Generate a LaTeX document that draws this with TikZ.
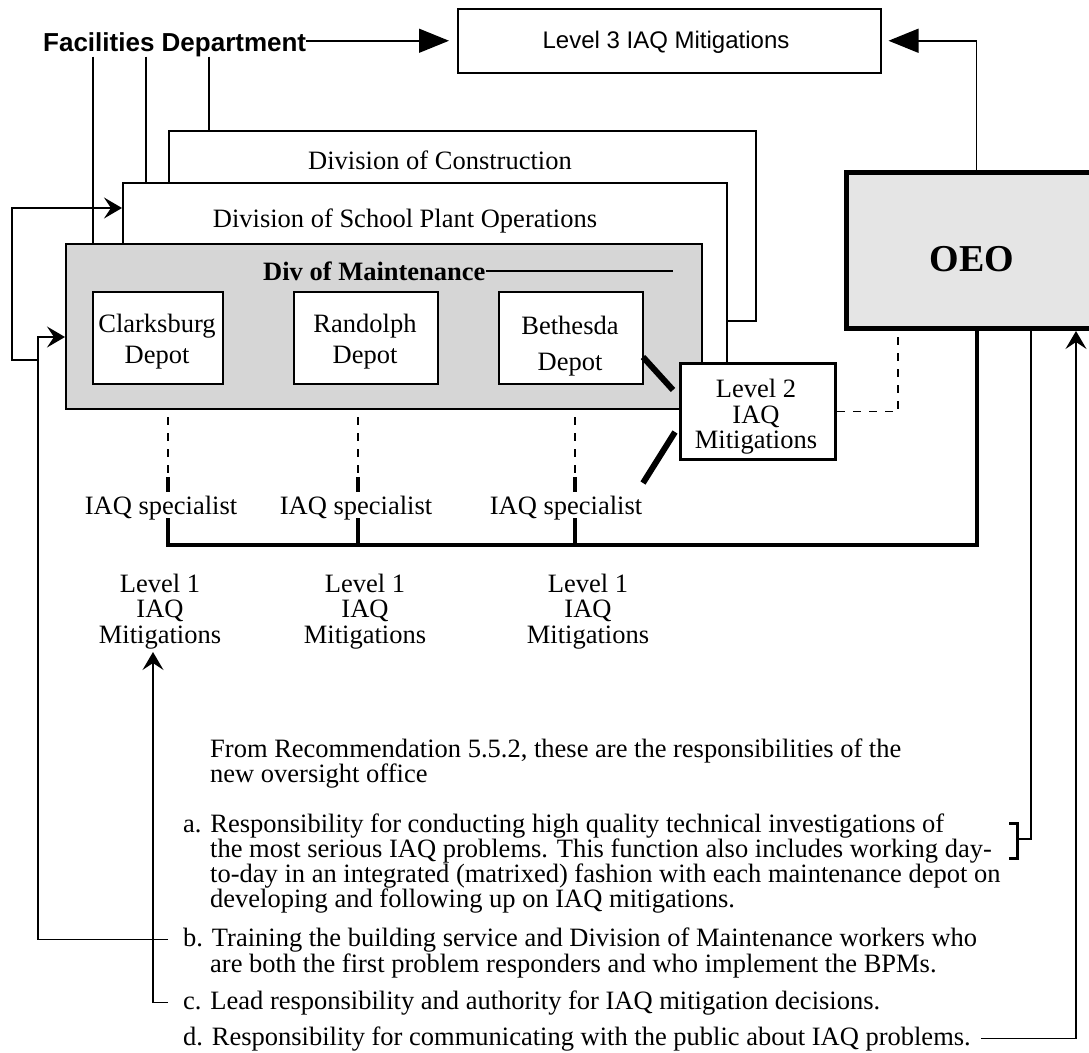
\documentclass[tikz,border=0pt]{standalone}
\usepackage{fontspec}
\setmainfont{Liberation Serif}
\newfontfamily\arialf{Liberation Sans}
\usetikzlibrary{arrows.meta}
\begin{document}
\begin{tikzpicture}[x=1pt,y=-1pt,
  tx/.style={font=\fontsize{26.5}{25}\selectfont, inner sep=0pt},
  txb/.style={font=\fontsize{26.5}{25}\selectfont\bfseries, inner sep=0pt},
  rbox/.style={draw, line width=1.5pt, fill=white, inner sep=0pt, anchor=north west},
  thinln/.style={line width=1.5pt},
  fatln/.style={line width=4pt},
  bigtip/.style={-{Triangle[length=30pt,width=24pt]}},
  opentip/.style={-{Stealth[length=18pt,width=21pt,inset=7pt]}},
  dsh/.style={line width=1.5pt, dash pattern=on 8pt off 8pt}
]
\useasboundingbox (0,0) rectangle (1089,1052);
\begin{scope}
\clip (0,0) rectangle (1089,1052);

% Top
\node[font=\arialf\bfseries\fontsize{26}{28}\selectfont, inner sep=0pt, anchor=base west] (fac) at (43,51) {Facilities Department};
\node[rbox, minimum width=423, minimum height=64] (l3) at (457,8) {};
\node[font=\arialf\fontsize{24}{26}\selectfont, inner sep=0pt, anchor=base] (l3t) at (666,48) {Level 3 IAQ Mitigations};

% Division boxes
\node[rbox, minimum width=587, minimum height=190] (constr) at (168,130) {};
\node[tx, anchor=base] (constrt) at (440,169) {Division of Construction};
\node[rbox, minimum width=604, minimum height=220] (spo) at (122,182) {};
\node[tx, anchor=base] (spot) at (405,227) {Division of School Plant Operations};
\node[rbox, fill=black!16, minimum width=636, minimum height=165] (maint) at (65,243) {};
\node[txb, anchor=base west] (dmt) at (263,280) {Div of Maintenance};
\draw[thinln] (dmt.east) -- ++(187,0);

% Depots
\node[rbox, minimum width=130, minimum height=92] (clark) at (92,291) {};
\node[tx, anchor=base] (clarkA) at (157,332) {Clarksburg};
\node[tx, anchor=base] (clarkB) at (157,363) {Depot};
\node[rbox, minimum width=144, minimum height=92] (rand) at (293,291) {};
\node[tx, anchor=base] (randA) at (365,332) {Randolph};
\node[tx, anchor=base] (randB) at (365,363) {Depot};
\node[rbox, minimum width=144, minimum height=92] (beth) at (498,291) {};
\node[tx, anchor=base] (bethA) at (570,334) {Bethesda};
\node[tx, anchor=base] (bethB) at (570,370) {Depot};

% Level 2
\node[rbox, line width=3pt, minimum width=155, minimum height=96] (l2) at (679,362) {};
\node[tx, anchor=base] (l2a) at (756,397) {Level 2};
\node[tx, anchor=base] (l2b) at (756,423) {IAQ};
\node[tx, anchor=base] (l2c) at (756,448) {Mitigations};
\draw[line width=6pt] (643,357) -- (673,390);
\draw[line width=6pt] (675,432) -- (643,483);

% OEO
\node[draw, line width=5pt, fill=black!10, inner sep=0pt, anchor=north west, minimum width=260, minimum height=156] (oeo) at (844,170) {};
\node[font=\fontsize{38}{40}\selectfont\bfseries, inner sep=0pt, anchor=base] (oeot) at (972,271) {OEO};

% Facilities connectors
\draw[thinln, bigtip, shorten >=8pt] (fac.east |- l3.west) -- (l3.west);
\draw[thinln] ([xshift=50pt]fac.south west) -- ([xshift=50pt]fac.south west |- maint.north);
\draw[thinln] ([xshift=103pt]fac.south west) -- ([xshift=103pt]fac.south west |- spo.north);
\draw[thinln] ([xshift=166pt]fac.south west) -- ([xshift=166pt]fac.south west |- constr.north);

% OEO to Level 3
\draw[thinln, bigtip, shorten >=7pt] (oeo.north) |- (l3.east);

% Level 2 dashed to OEO
\draw[dsh] (l2.east) -| (oeo.south -| 898,0);

% Specialists
\node[tx, anchor=base] (sp1) at (161,514) {IAQ specialist};
\node[tx, anchor=base] (sp2) at (356,514) {IAQ specialist};
\node[tx, anchor=base] (sp3) at (566,514) {IAQ specialist};
\foreach \xx in {168,358,575}{
  \draw[line width=1.5pt, dash pattern=on 8pt off 8pt] (\xx,417) -- (\xx,477);
  \draw[fatln] (\xx,477) -- (\xx,492);
  \draw[fatln] (\xx,518) -- (\xx,545);
}
\draw[fatln] (oeo.south) |- (166,545);

% Level 1
\node[tx, anchor=base] (m1a) at (160,592) {Level 1};
\node[tx, anchor=base] (m1b) at (160,617) {IAQ};
\node[tx, anchor=base] (m1c) at (160,643) {Mitigations};
\node[tx, anchor=base] (m2a) at (365,592) {Level 1};
\node[tx, anchor=base] (m2b) at (365,617) {IAQ};
\node[tx, anchor=base] (m2c) at (365,643) {Mitigations};
\node[tx, anchor=base] (m3a) at (588,592) {Level 1};
\node[tx, anchor=base] (m3b) at (588,617) {IAQ};
\node[tx, anchor=base] (m3c) at (588,643) {Mitigations};

% Text block
\node[tx, anchor=base west] (fr1) at (210,757) {From Recommendation 5.5.2, these are the responsibilities of the};
\node[tx, anchor=base west] (fr2) at (210,782) {new oversight office};
\node[tx, anchor=base west] (a1) at (183,832) {a. Responsibility for conducting high quality technical investigations of};
\node[tx, anchor=base west] (a2) at (210,857) {the most serious IAQ problems. This function also includes working day-};
\node[tx, anchor=base west] (a3) at (210,882) {to-day in an integrated (matrixed) fashion with each maintenance depot on};
\node[tx, anchor=base west] (a4) at (210,907) {developing and following up on IAQ mitigations.};
\node[tx, anchor=base west] (b1) at (183,946) {b. Training the building service and Division of Maintenance workers who};
\node[tx, anchor=base west] (b2) at (210,972) {are both the first problem responders and who implement the BPMs.};
\node[tx, anchor=base west] (c1) at (183,1009) {c. Lead responsibility and authority for IAQ mitigation decisions.};
\node[tx, anchor=base west] (d1) at (183,1045) {d. Responsibility for communicating with the public about IAQ problems.};

% Left loops
\coordinate (upTip) at (153,652);
\draw[thinln, opentip] ([xshift=-15pt]b1.west) -| (38,337) -- (maint.west |- 0,337);
\draw[thinln, opentip] (38,360) -- (12,360) -- (12,208) -- (spo.west |- 0,208);
\draw[thinln, opentip] ([xshift=-15pt]c1.west) -| (upTip);

% Right side
\coordinate (brk) at (1017,839);
\draw[line width=3pt] (1009,823) -- (1017,823) -- (1017,858) -- (1009,858);
\draw[thinln] (oeo.south -| 1031,0) |- (brk);
\draw[thinln, opentip] ([xshift=10pt]d1.east) -| (oeo.south -| 1076,0);
\end{scope}
\end{tikzpicture}
\end{document}
